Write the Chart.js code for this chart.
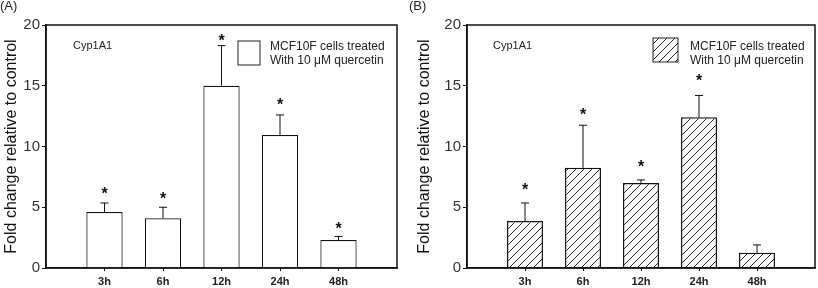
<!DOCTYPE html>
<html>
<head>
<meta charset="utf-8">
<script src="https://cdn.jsdelivr.net/npm/chart.js@4"></script>
<style>
  body { margin: 0; background: #fff; }
  .panel { position: absolute; top: 0; width: 409px; height: 288px; }
</style>
</head>
<body>
<div class="panel" style="left:0"><canvas id="chartA" width="409" height="288"></canvas></div>
<div class="panel" style="left:409px"><canvas id="chartB" width="409" height="288"></canvas></div>
<script>
const categories = ['3h', '6h', '12h', '24h', '48h'];
const yTicks = [0, 5, 10, 15, 20];

// panel A: open bars
const meanA = [4.6, 4.1, 15.0, 10.95, 2.3];
const errTopA = [5.35, 5.0, 18.3, 12.6, 2.6];
const starA = [6.3, 5.85, 18.85, 13.6, 3.4];

// panel B: hatched bars
const meanB = [3.87, 8.25, 7.0, 12.4, 1.25];
const errTopB = [5.35, 11.75, 7.25, 14.2, 1.9];
const starB = [6.6, 12.75, 8.5, 15.6, null];

const legendLines = ['MCF10F cells treated', 'With 10 \u03bcM quercetin'];
const geneLabel = 'Cyp1A1';

function hatchPattern() {
    const c = document.createElement('canvas');
    c.width = 8; c.height = 8;
    const g = c.getContext('2d');
    g.strokeStyle = '#222';
    g.lineWidth = 1;
    g.beginPath();
    g.moveTo(0, 8); g.lineTo(8, 0);
    g.moveTo(-2, 2); g.lineTo(2, -2);
    g.moveTo(6, 10); g.lineTo(10, 6);
    g.stroke();
    return g.createPattern(c, 'repeat');
}

const decor = {
    id: 'decor',
    afterDatasetsDraw(chart, args, o) {
        const ctx = chart.ctx;
        const a = chart.chartArea;
        const x = chart.scales.x, y = chart.scales.y;
        ctx.save();
        // frame
        ctx.strokeStyle = '#111';
        ctx.lineWidth = 1.5;
        ctx.strokeRect(a.left, a.top, a.right - a.left, a.bottom - a.top);
        // error bars
        ctx.lineWidth = 1;
        o.mean.forEach((m, i) => {
            const px = x.getPixelForValue(i + 1);
            const y0 = y.getPixelForValue(m);
            const y1 = y.getPixelForValue(o.err[i]);
            ctx.beginPath();
            ctx.moveTo(px, y0); ctx.lineTo(px, y1);
            ctx.moveTo(px - 4, y1); ctx.lineTo(px + 4, y1);
            ctx.stroke();
        });
        // significance marks
        ctx.fillStyle = '#111';
        ctx.font = 'bold 16px Arial';
        ctx.textAlign = 'center';
        ctx.textBaseline = 'middle';
        o.stars.forEach((s, i) => {
            if (s === null) return;
            ctx.fillText('*', x.getPixelForValue(i + 1), y.getPixelForValue(s) + 3);
        });
        // gene label
        ctx.font = '11px Arial';
        ctx.textAlign = 'left';
        ctx.fillStyle = '#222';
        ctx.fillText(geneLabel, o.gene[0], o.gene[1]);
        // legend
        const lg = o.legend;
        ctx.fillStyle = o.fill;
        ctx.fillRect(lg.x, lg.y, lg.w, lg.h);
        ctx.strokeStyle = '#222';
        ctx.lineWidth = 1;
        ctx.strokeRect(lg.x, lg.y, lg.w, lg.h);
        ctx.fillStyle = '#222';
        ctx.font = '12px Arial';
        ctx.fillText(legendLines[0], lg.tx, lg.ty);
        ctx.fillText(legendLines[1], lg.tx, lg.ty + 14);
        // panel letter
        ctx.font = '13px Arial';
        ctx.textBaseline = 'top';
        ctx.fillText(o.letter, 0, 0);
        ctx.restore();
    }
};

function makePanel(id, mean, err, stars, fill, cfg) {
    return new Chart(document.getElementById(id), {
        type: 'bar',
        data: {
            datasets: [{
                data: mean.map((v, i) => ({ x: i + 1, y: v })),
                backgroundColor: fill,
                borderColor: '#111',
                borderWidth: 1.2,
                barPercentage: 0.62,
                categoryPercentage: 1
            }]
        },
        options: {
            responsive: false,
            animation: false,
            layout: { padding: { left: 0, right: cfg.right, top: 25, bottom: 0 } },
            plugins: {
                legend: { display: false },
                tooltip: { enabled: false },
                decor: { mean: mean, err: err, stars: stars, fill: fill, letter: cfg.letter, gene: cfg.gene, legend: cfg.legend }
            },
            scales: {
                x: {
                    type: 'linear',
                    min: 0,
                    max: 6,
                    offset: false,
                    afterBuildTicks: s => { s.ticks = categories.map((c, i) => ({ value: i + 1 })); },
                    afterFit: s => { s.height = 20; },
                    ticks: {
                        autoSkip: false,
                        maxRotation: 0,
                        padding: 4,
                        color: '#222',
                        font: { family: 'Arial', size: 11, weight: 'bold' },
                        callback: v => categories[v - 1]
                    },
                    grid: { offset: false, drawOnChartArea: false, tickLength: 3, color: '#111' },
                    border: { color: '#111', width: 1.5 }
                },
                y: {
                    min: 0,
                    max: 20,
                    afterBuildTicks: s => { s.ticks = yTicks.map(v => ({ value: v })); },
                    afterFit: s => { s.width = cfg.yw; },
                    ticks: {
                        padding: 2,
                        color: '#333',
                        font: { family: 'Arial', size: 15 }
                    },
                    grid: { drawOnChartArea: false, tickLength: 4, color: '#111' },
                    border: { color: '#111', width: 1.5 },
                    title: {
                        display: true,
                        text: 'Fold change relative to control',
                        color: '#111',
                        font: { family: 'Arial', size: 16 },
                        padding: { top: cfg.tpad, bottom: 0 }
                    }
                }
            }
        },
        plugins: [decor]
    });
}

makePanel('chartA', meanA, errTopA, starA, '#ffffff', {
    letter: '(A)', right: 12, yw: 46, tpad: 2,
    gene: [73, 46],
    legend: { x: 238, y: 41, w: 22, h: 24, tx: 270, ty: 47 }
});

makePanel('chartB', meanB, errTopB, starB, hatchPattern(), {
    letter: '(B)', right: 3, yw: 58, tpad: 6,
    gene: [84, 46],
    legend: { x: 244, y: 38, w: 25, h: 24, tx: 281, ty: 47 }
});
</script>
</body>
</html>
